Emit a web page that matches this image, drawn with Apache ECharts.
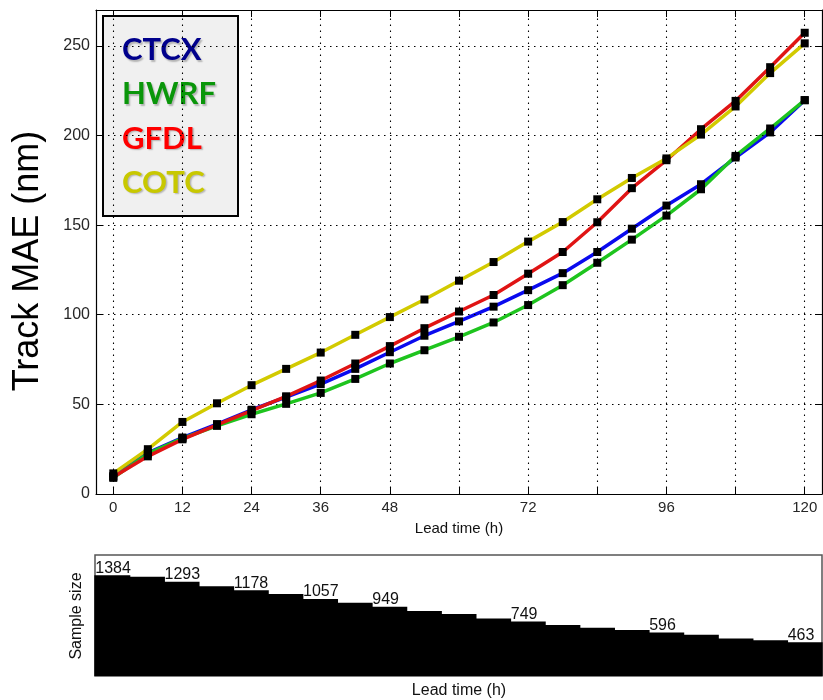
<!DOCTYPE html>
<html>
<head>
<meta charset="utf-8">
<script src="https://cdn.jsdelivr.net/npm/echarts@6/dist/echarts.min.js"></script>
<style>
  html, body { margin: 0; padding: 0; background: #fff; }
  #chart { width: 823px; height: 700px; }
</style>
</head>
<body>
<div id="chart"></div>
<script>
// Lead times (h) of the verification points
const leadHours = [0, 6, 12, 18, 24, 30, 36, 42, 48, 54, 60, 66, 72, 78, 84, 90, 96, 102, 108, 114, 120];

// Track mean absolute error (nm) per model
const ctcx = [10, 23, 31.5, 39, 47, 54, 61.3, 69.8, 79.1, 88.3, 96.3, 104.5, 113.7, 123.2, 135, 148, 160.9, 172.8, 187.7, 201.7, 219.7];
const hwrf = [9, 22.5, 31, 38, 44.5, 50.3, 56.4, 64.2, 72.8, 80.2, 87.7, 95.7, 105.4, 116.5, 129, 141.9, 155.3, 170, 188.6, 203.9, 219.7];
const gfdl = [9.5, 21, 30.5, 38.5, 46.5, 54.5, 63.3, 72.8, 82.5, 92.5, 101.8, 111, 122.9, 135, 151.6, 170.6, 186.2, 203.5, 219.3, 238.1, 257.3];
const cotc = [11.5, 25, 40.2, 50.6, 60.7, 69.8, 78.9, 88.8, 98.7, 108.5, 119, 129.4, 140.8, 151.7, 164.4, 176.3, 187.2, 200.5, 216.2, 234.8, 251.4];

// Number of forecast cases per lead time
const sampleSize = [1384, 1361, 1293, 1232, 1178, 1124, 1057, 1005, 949, 893, 850, 790, 749, 699, 664, 630, 596, 565, 515, 492, 463];
const sampleLabelHours = [0, 12, 24, 36, 48, 72, 96, 120];

// Axis ticks
const xTicks = [0, 12, 24, 36, 48, 60, 72, 84, 96, 108, 120];
const xTickLabels = [0, 12, 24, 36, 48, 72, 96, 120];
const yTicks = [0, 50, 100, 150, 200, 250];

const models = [
  { name: 'CTCX', values: ctcx, line: '#0a0aee', text: '#00008c' },
  { name: 'HWRF', values: hwrf, line: '#1ec41e', text: '#0a960a' },
  { name: 'GFDL', values: gfdl, line: '#e01414', text: '#ff0000' },
  { name: 'COTC', values: cotc, line: '#d2ca00', text: '#c8c800' }
];

const pairs = arr => leadHours.map((h, i) => [h, arr[i]]);

const tickStyle = { lineStyle: { color: '#000', width: 1 } };
const gridDots = { color: '#000', width: 1.1, type: [1.5, 4.5] };

const series = [];

// dotted grid
series.push({
  type: 'line', xAxisIndex: 0, yAxisIndex: 0, data: [], silent: true, z: 1,
  markLine: {
    silent: true, symbol: 'none', label: { show: false },
    lineStyle: gridDots,
    data: xTicks.map(v => ({ xAxis: v })).concat(yTicks.slice(1).map(v => ({ yAxis: v })))
  }
});

models.forEach((m, k) => {
  series.push({
    name: m.name, type: 'line', xAxisIndex: 0, yAxisIndex: 0,
    data: pairs(m.values), showSymbol: false, z: 3 + k,
    lineStyle: { color: m.line, width: 3.5 }, itemStyle: { color: m.line }
  });
});
models.forEach(m => {
  series.push({
    name: m.name + ' pts', type: 'scatter', xAxisIndex: 0, yAxisIndex: 0,
    data: pairs(m.values), symbol: 'rect', symbolSize: 8, z: 10,
    itemStyle: { color: '#000', opacity: 1 }
  });
});

// sample-size step bars
series.push({
  type: 'bar', xAxisIndex: 2, yAxisIndex: 2,
  barWidth: '104%', barCategoryGap: 0,
  itemStyle: { color: '#000' },
  data: leadHours.map((h, i) => ({
    value: [h, sampleSize[i]],
    label: {
      show: sampleLabelHours.indexOf(h) >= 0,
      position: [1, 1], align: 'left', verticalAlign: 'bottom',
      formatter: String(sampleSize[i]),
      fontFamily: 'Liberation Sans, Arial, sans-serif', fontSize: 16, color: '#111'
    }
  }))
});

const option = {
  backgroundColor: '#fff',
  animation: false,
  grid: [
    { left: 96, top: 10, width: 726, height: 484, show: false },
    { left: 95, top: 555, width: 727, height: 121, show: true, borderColor: '#555', borderWidth: 1.5, backgroundColor: 'transparent' }
  ],
  xAxis: [
    {
      type: 'value', gridIndex: 0, min: -3, max: 123, position: 'bottom',
      axisLine: { show: true, onZero: false, lineStyle: { color: '#000', width: 1.2 } },
      axisTick: Object.assign({ show: true, inside: true, length: 7, customValues: xTicks }, tickStyle),
      axisLabel: { show: true, customValues: xTickLabels, margin: 6, fontFamily: 'Liberation Sans, Arial, sans-serif', fontSize: 15, color: '#262626' },
      splitLine: { show: false }
    },
    {
      type: 'value', gridIndex: 0, min: -3, max: 123, position: 'top',
      axisLine: { show: true, onZero: false, lineStyle: { color: '#000', width: 1.2 } },
      axisTick: Object.assign({ show: true, inside: true, length: 7, customValues: xTicks }, tickStyle),
      axisLabel: { show: false }, splitLine: { show: false }
    },
    {
      type: 'value', gridIndex: 1, min: -3, max: 123,
      axisLine: { show: false }, axisTick: { show: false }, axisLabel: { show: false }, splitLine: { show: false }
    }
  ],
  yAxis: [
    {
      type: 'value', gridIndex: 0, min: 0, max: 270, position: 'left',
      axisLine: { show: true, onZero: false, lineStyle: { color: '#000', width: 1.2 } },
      axisTick: Object.assign({ show: true, inside: true, length: 7, customValues: yTicks }, tickStyle),
      axisLabel: { show: true, customValues: yTicks, margin: 6, fontFamily: 'Liberation Sans, Arial, sans-serif', fontSize: 16, color: '#262626' },
      splitLine: { show: false }
    },
    {
      type: 'value', gridIndex: 0, min: 0, max: 270, position: 'right',
      axisLine: { show: true, onZero: false, lineStyle: { color: '#000', width: 1.2 } },
      axisTick: Object.assign({ show: true, inside: true, length: 7, customValues: yTicks }, tickStyle),
      axisLabel: { show: false }, splitLine: { show: false }
    },
    {
      type: 'value', gridIndex: 1, min: 0, max: 1661,
      axisLine: { show: false }, axisTick: { show: false }, axisLabel: { show: false }, splitLine: { show: false }
    }
  ],
  series: series,
  graphic: [
    {
      type: 'text', x: 28, y: 261, rotation: Math.PI / 2,
      style: { text: 'Track MAE (nm)', font: '36px "Liberation Sans", Arial, sans-serif', fill: '#000', align: 'center', verticalAlign: 'middle' }
    },
    {
      type: 'text', x: 459, y: 529,
      style: { text: 'Lead time (h)', font: '15px "Liberation Sans", Arial, sans-serif', fill: '#111', align: 'center', verticalAlign: 'middle' }
    },
    {
      type: 'text', x: 77, y: 616, rotation: Math.PI / 2,
      style: { text: 'Sample size', font: '16px "Liberation Sans", Arial, sans-serif', fill: '#111', align: 'center', verticalAlign: 'middle' }
    },
    {
      type: 'text', x: 459, y: 691,
      style: { text: 'Lead time (h)', font: '16px "Liberation Sans", Arial, sans-serif', fill: '#111', align: 'center', verticalAlign: 'middle' }
    },
    {
      type: 'group', z: 100,
      children: [
        {
          type: 'rect', shape: { x: 103, y: 16, width: 135, height: 200 },
          style: { fill: '#f0f0f0', stroke: '#000', lineWidth: 2 }
        }
      ].concat(models.map((m, i) => ({
        type: 'text', x: 122, y: 50 + i * 44.3,
        style: {
          text: m.name, font: 'bold 31px Lato, "Open Sans", sans-serif', fill: m.text,
          align: 'left', verticalAlign: 'middle',
          textShadowColor: 'rgba(0,0,0,0.25)', textShadowBlur: 1.5, textShadowOffsetX: 1.5, textShadowOffsetY: 1.5
        }
      })))
    }
  ]
};

const chart = echarts.init(document.getElementById('chart'), null, { renderer: 'canvas' });
chart.setOption(option);
</script>
</body>
</html>
